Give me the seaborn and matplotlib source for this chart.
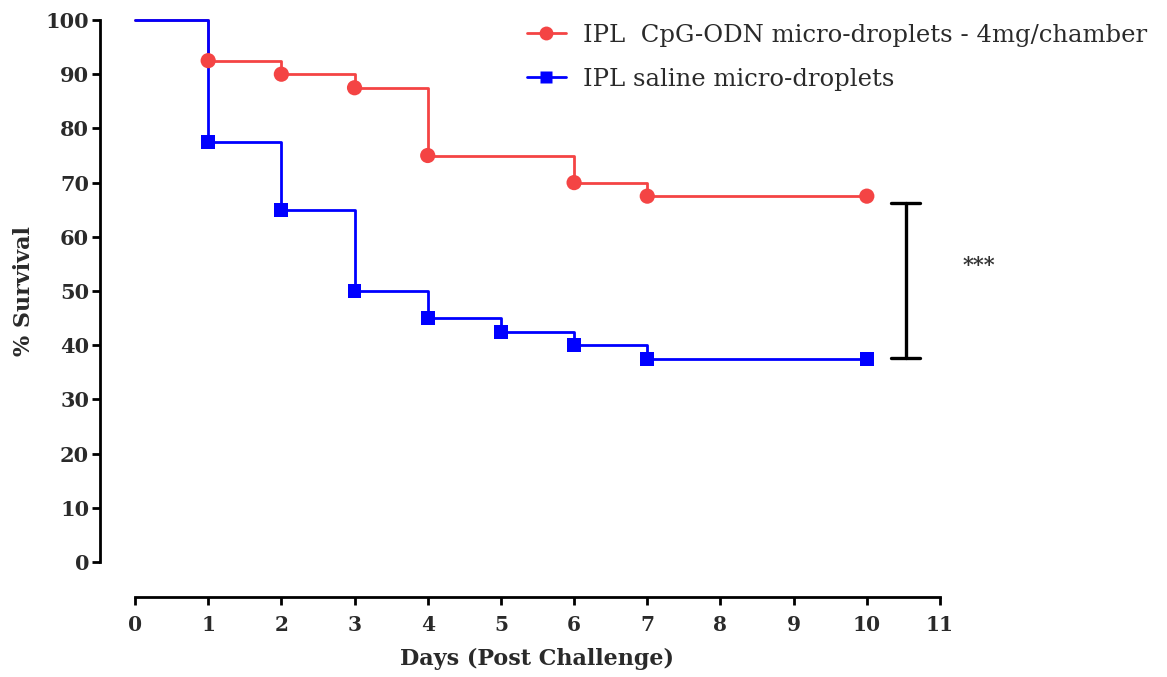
import matplotlib
matplotlib.use("Agg")
import matplotlib.pyplot as plt
import seaborn as sns
import pandas as pd
from matplotlib.lines import Line2D

# ---- data ----
cpg_days = [0, 1, 2, 3, 4, 6, 7, 10]
cpg_surv = [100, 92.5, 90, 87.5, 75, 70, 67.5, 67.5]
sal_days = [0, 1, 2, 3, 4, 5, 6, 7, 10]
sal_surv = [100, 77.5, 65, 50, 45, 42.5, 40, 37.5, 37.5]
labels = ["IPL  CpG-ODN micro-droplets - 4mg/chamber", "IPL saline micro-droplets"]
x_ticks = list(range(0, 12))
y_ticks = list(range(0, 101, 10))
sig_x = 10.53
sig_low, sig_high = 37.6, 66.2
sig_text = "***"

red = "#F44444"
blue = "#0000FF"
txt = "#2a2a2a"

sns.set_style("white")
plt.rcParams['font.family'] = ['DejaVu Serif', 'Liberation Serif']

df = pd.concat([
    pd.DataFrame({"day": cpg_days, "surv": cpg_surv, "group": labels[0]}),
    pd.DataFrame({"day": sal_days, "surv": sal_surv, "group": labels[1]}),
], ignore_index=True)
pal = {labels[0]: red, labels[1]: blue}

fig = plt.figure(figsize=(11.67, 6.77), dpi=100)
ax = fig.add_axes([135/1167, 1-562/677, (940-135)/1167, (562-20)/677])

sns.lineplot(data=df, x="day", y="surv", hue="group", palette=pal,
             drawstyle="steps-post", linewidth=2.0, legend=False, ax=ax,
             clip_on=False, estimator=None, sort=False)
mk = df[df["day"] > 0]
sns.scatterplot(data=mk[mk["group"] == labels[0]], x="day", y="surv", color=red,
                marker="o", s=120, edgecolor="none", ax=ax, legend=False,
                clip_on=False, zorder=4)
sns.scatterplot(data=mk[mk["group"] == labels[1]], x="day", y="surv", color=blue,
                marker="s", s=100, edgecolor="none", ax=ax, legend=False,
                clip_on=False, zorder=5)

ax.set_xlim(0, 11)
ax.set_ylim(0, 100)
ax.set_xticks(x_ticks)
ax.set_yticks(y_ticks)

for s in ["top", "right"]:
    ax.spines[s].set_visible(False)
ax.spines["left"].set_position(("outward", 25))
ax.spines["bottom"].set_position(("outward", 25))
ax.spines["left"].set_bounds(0, 100)
ax.spines["bottom"].set_bounds(0, 11)
for s in ["left", "bottom"]:
    ax.spines[s].set_linewidth(2.0)
    ax.spines[s].set_color("black")
ax.tick_params(axis="both", which="major", direction="out", length=6, width=2.0,
               color="black", left=True, bottom=True, labelcolor=txt)
ax.tick_params(axis="y", pad=2, labelsize=15)
ax.tick_params(axis="x", pad=7, labelsize=14.5)
for lab in ax.get_xticklabels() + ax.get_yticklabels():
    lab.set_fontweight("bold")

ax.set_xlabel("Days (Post Challenge)", fontsize=16, fontweight="bold", color=txt)
ax.set_ylabel("% Survival", fontsize=16, fontweight="bold", color=txt)
ax.xaxis.set_label_coords(0.5, -0.158)
ax.yaxis.set_label_coords(-0.124, 0.5)

# significance bar
ax.plot([sig_x, sig_x], [sig_low, sig_high], color="black", lw=2.4, clip_on=False)
ax.plot([sig_x - 0.2, sig_x + 0.2], [sig_high, sig_high], color="black", lw=2.4, clip_on=False)
ax.plot([sig_x - 0.2, sig_x + 0.2], [sig_low, sig_low], color="black", lw=2.4, clip_on=False)
ax.text(sig_x + 1.0, 54.8, sig_text, fontsize=15, fontweight="bold",
        ha="center", va="center", color="#333333")

handles = [Line2D([], [], color=red, lw=2.0, marker="o", markersize=10, markeredgecolor="none"),
           Line2D([], [], color=blue, lw=2.0, marker="s", markersize=9, markeredgecolor="none")]
fig.legend(handles, [labels[0], labels[1]], loc="upper left",
           bbox_to_anchor=(505/1167, 1 - 2/677), frameon=False, fontsize=17.5,
           handlelength=1.6, handletextpad=0.7, labelspacing=0.85, labelcolor=txt)

fig.savefig("out.png", dpi=100)
